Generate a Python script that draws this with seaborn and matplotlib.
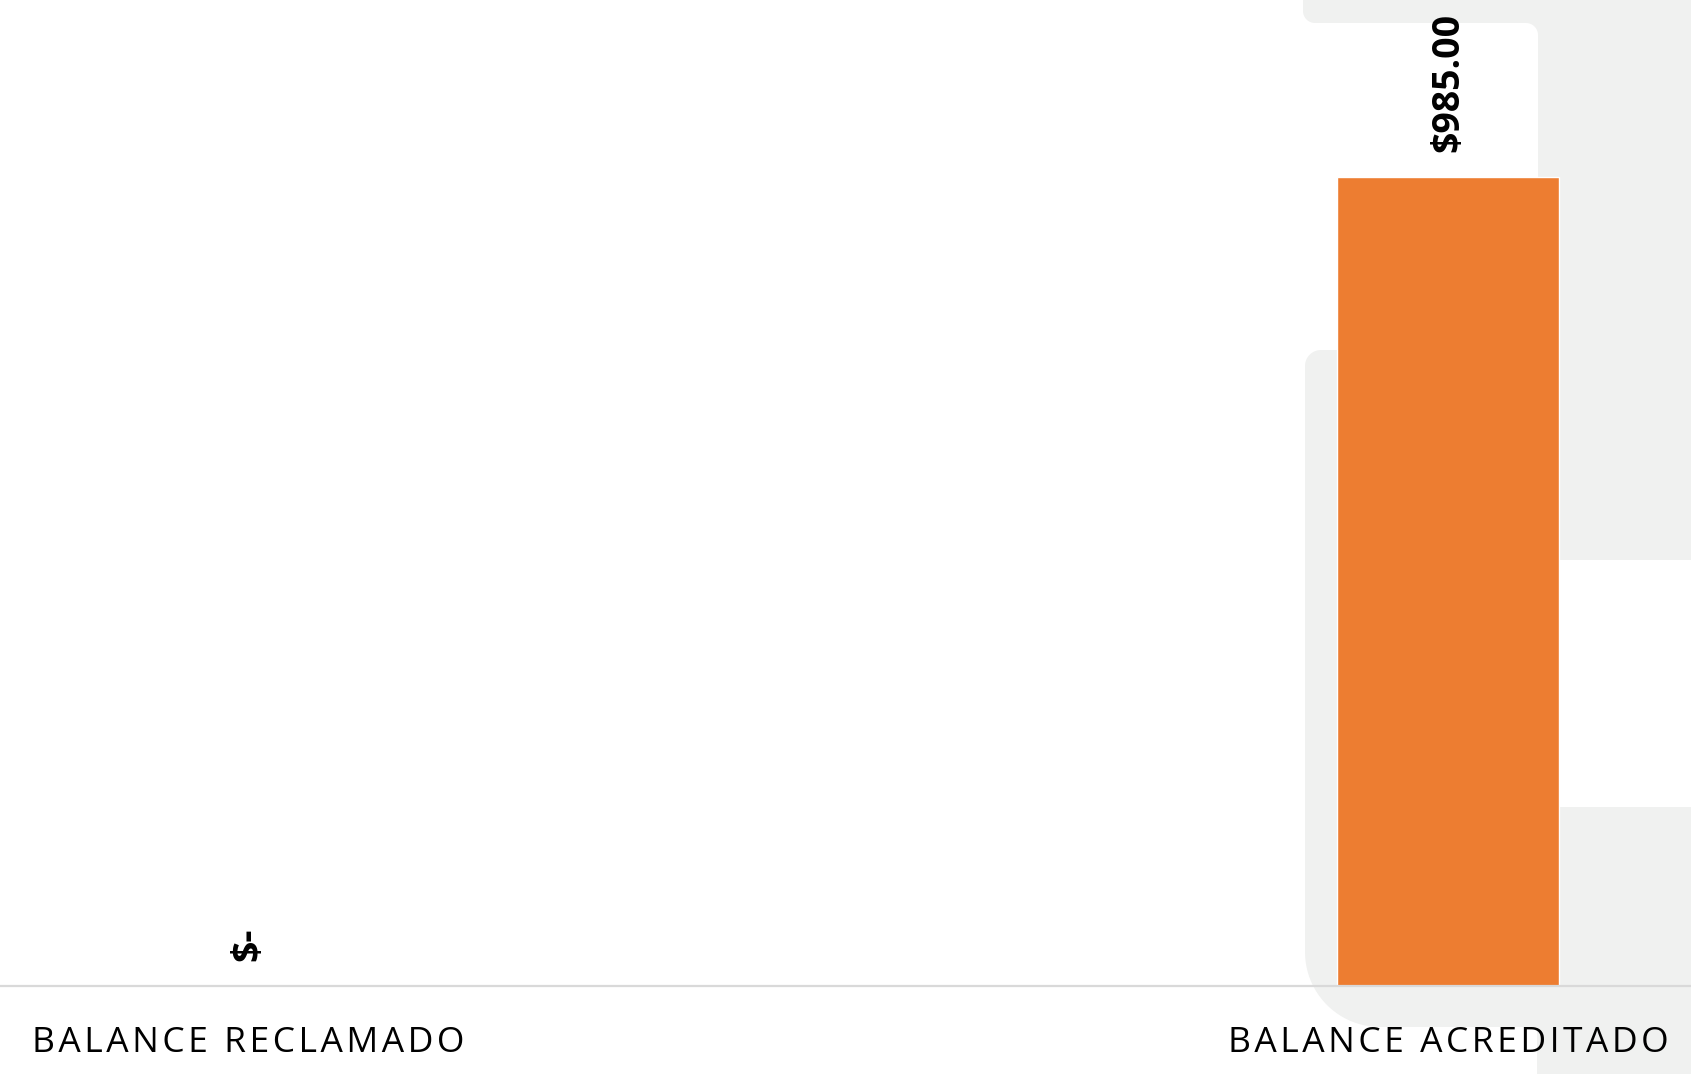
import numpy as np
import pandas as pd
import matplotlib
matplotlib.use("Agg")
import matplotlib.pyplot as plt
from matplotlib.patches import Polygon
import seaborn as sns

# Data
categories = ["BALANCE RECLAMADO", "BALANCE ACREDITADO"]
values = [0.0, 985.0]
value_labels = ["$-", "$985.00"]

BAR_COLOR = "#ED7D31"
PANEL_GRAY = "#F0F1F0"
W, H = 1691, 1074

sns.set_theme(style="white")
plt.rcParams["font.family"] = ["Open Sans", "DejaVu Sans"]

fig = plt.figure(figsize=(W / 100, H / 100), dpi=100)
fig.patch.set_facecolor("white")
ax = fig.add_axes([0, (H - 986) / H, 1, 986 / H])
ax.patch.set_alpha(0)


def rounded_box(x0, y0, x1, y1, r_tl=0, r_tr=0, r_br=0, r_bl=0, n=24):
    """Rounded rectangle in pixel coords (y down), returned as figure-fraction vertices."""
    pts = []

    def arc(cx, cy, r, a0, a1):
        for t in np.linspace(a0, a1, n):
            pts.append((cx + r * np.cos(t), cy + r * np.sin(t)))

    if r_tl:
        arc(x0 + r_tl, y0 + r_tl, r_tl, np.pi, 1.5 * np.pi)
    else:
        pts.append((x0, y0))
    if r_tr:
        arc(x1 - r_tr, y0 + r_tr, r_tr, 1.5 * np.pi, 2 * np.pi)
    else:
        pts.append((x1, y0))
    if r_br:
        arc(x1 - r_br, y1 - r_br, r_br, 0, 0.5 * np.pi)
    else:
        pts.append((x1, y1))
    if r_bl:
        arc(x0 + r_bl, y1 - r_bl, r_bl, 0.5 * np.pi, np.pi)
    else:
        pts.append((x0, y1))
    return [(x / W, 1 - y / H) for x, y in pts]


def add_panel(verts):
    fig.patches.append(Polygon(verts, closed=True, transform=fig.transFigure,
                               facecolor=PANEL_GRAY, edgecolor="none", zorder=-5))


def tracked(s, gap="\u200a"):
    """Widen letter spacing by putting a hair space between characters."""
    return gap.join(s)


# Decorative background panels
add_panel(rounded_box(1303, -20, 1720, 23, r_bl=12))
add_panel(rounded_box(1538, -20, 1720, 560))
r = 12
corner = [(1538 - r, 23), (1538, 23), (1538, 23 + r)]
for t in np.linspace(0, -0.5 * np.pi, 16):
    corner.append((1538 - r + r * np.cos(t), 23 + r + r * np.sin(t)))
add_panel([(x / W, 1 - y / H) for x, y in corner])
add_panel(rounded_box(1305, 350, 1545, 1027, r_tl=16, r_bl=75))
add_panel(rounded_box(1537, 807, 1720, 1100))

df = pd.DataFrame({"category": categories, "value": values})
sns.barplot(data=df, x="category", y="value", color=BAR_COLOR, width=0.185,
            saturation=1, ax=ax, zorder=2)

ax.set_xlim(-248 / 1200, 1 + (1691 - 1448) / 1200)
ax.set_ylim(0, 1200)
ax.set_xlabel("")
ax.set_ylabel("")
ax.set_yticks([])

for side in ["top", "left", "right"]:
    ax.spines[side].set_visible(False)
ax.spines["bottom"].set_color("#D9D9D9")
ax.spines["bottom"].set_linewidth(1.6)
ax.spines["bottom"].set_zorder(3)

ax.set_xticks(range(len(categories)))
ax.set_xticklabels([tracked(c) for c in categories],
                   fontfamily=["Open Sans", "DejaVu Sans"])
ax.tick_params(axis="x", length=0, pad=29, labelsize=25.5, labelcolor="black")

# Value labels above the bars
for i, (v, txt) in enumerate(zip(values, value_labels)):
    ax.annotate(txt, xy=(i, v), xytext=(0, 18), textcoords="offset points",
                rotation=90, ha="center", va="bottom", fontsize=27,
                fontweight="bold", color="black", zorder=4)

fig.savefig("out.png", dpi=100, facecolor="white")
